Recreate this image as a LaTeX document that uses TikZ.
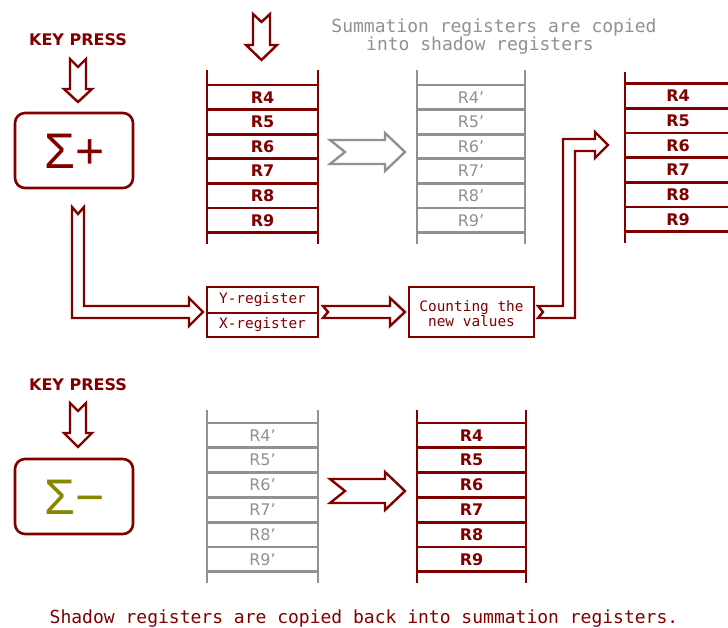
\documentclass[tikz,border=0pt]{standalone}
\usepackage{fontspec}
\setmainfont{DejaVu Sans}
\newfontfamily\monof{DejaVu Sans Mono}
\newfontfamily\sigf{Liberation Sans}
\definecolor{dred}{RGB}{128,0,0}
\definecolor{lgray}{RGB}{145,145,145}
\definecolor{olv}{RGB}{135,135,0}
\newcommand{\regstack}[6]{% L, R, vtop, vbot, first horizontal, style
  \draw[#6] (#1,#3) -- (#1,#4) (#2,#3) -- (#2,#4);
  \foreach \i in {0,...,6} \draw[#6] (#1,#5+\i*24.6) -- (#2,#5+\i*24.6);
}
\newcommand{\regstackb}[6]{%
  \draw[#6] (#1,#3) -- (#1,#4) (#2,#3) -- (#2,#4);
  \foreach \i in {0,...,6} \draw[#6] (#1,#5+\i*24.8) -- (#2,#5+\i*24.8);
}
\begin{document}
\begin{tikzpicture}[x=1pt,y=-1pt,line join=miter]
\tikzset{
  rline/.style={draw=dred, line width=2.7pt},
  gline/.style={draw=lgray, line width=2.7pt},
  hollowr/.style={draw=dred, line width=2.4pt, fill=white},
  hollowg/.style={draw=lgray, line width=2.4pt, fill=white},
  reglab/.style={font=\fontsize{16}{16}\selectfont\bfseries, inner sep=0pt, text=dred},
  greglab/.style={font=\fontsize{16}{16}\selectfont, inner sep=0pt, text=lgray},
  keylab/.style={font=\fontsize{16}{16}\selectfont\bfseries, inner sep=0pt, text=dred},
  monolab/.style={font=\monof\fontsize{14.4}{13.5}\selectfont, inner sep=0pt, text=dred, align=center},
  bigmono/.style={font=\monof\fontsize{18}{18}\selectfont, inner sep=0pt},
  box/.style={draw=dred, line width=2.6pt, inner sep=0pt},
  sigma/.style={font=\sigf\fontsize{50}{50}\selectfont, inner sep=0pt},
}
\useasboundingbox (0,0) rectangle (728,628);
\fill[white] (0,0) rectangle (728,628);

% ---------- top half ----------
\node[keylab] (key1) at (78,40) {KEY PRESS};
\draw[hollowr] (70,59) -- (78,67) -- (86,59) -- (86,89) -- (92,89) -- (78,102) -- (64,89) -- (70,89) -- cycle;
\node[box, rounded corners=10pt, minimum width=118pt, minimum height=75pt] (splusbox) at (74,150.5) {};
\node[sigma, text=dred] (splus) at (75,151.5) {Σ+};

\draw[hollowr] (253,14) -- (261.5,22) -- (270,14) -- (270,45) -- (277,45) -- (261.5,60) -- (246,45) -- (253,45) -- cycle;

\node[bigmono, text=lgray] (t1) at (494,28) {Summation registers are copied};
\node[bigmono, text=lgray] (t2) at (480,46) {into shadow registers};

\regstack{207}{318}{70}{244}{85}{rline}
\foreach \n [count=\i from 0] in {4,...,9}
  \node[reglab] (a\n) at (262.5,85+\i*24.6+12.3) {R\n};

\draw[hollowg] (330,140) -- (385,140) -- (385,133) -- (405,152) -- (385,171) -- (385,164) -- (330,164) -- (345,152) -- cycle;

\regstack{417}{525}{70}{244}{85}{gline}
\foreach \n [count=\i from 0] in {4,...,9}
  \node[greglab] (b\n) at (471,85+\i*24.6+12.3) {R\n’};

\draw[rline] (625,72) -- (625,243);
\foreach \i in {0,...,6} \draw[rline] (625,83.5+\i*24.7) -- (729,83.5+\i*24.7);
\foreach \n [count=\i from 0] in {4,...,9}
  \node[reglab] (c\n) at (678,83.5+\i*24.7+12.35) {R\n};

% left elbow arrow
\draw[hollowr] (72,207) -- (78,214) -- (84,207) -- (84,306) -- (189,306) -- (189,298) -- (203,312) -- (189,326) -- (189,318) -- (72,318) -- cycle;

\node[box, minimum width=111pt, minimum height=26pt, monolab] (yreg) at (262.5,300) {Y-register};
\node[box, minimum width=111pt, minimum height=24pt, monolab] (xreg) at (262.5,325) {X-register};

\draw[hollowr] (323,306) -- (390,306) -- (390,298) -- (405,312) -- (390,326) -- (390,318) -- (323,318) -- (328,312) -- cycle;

\node[box, minimum width=125pt, minimum height=50pt] (count) at (471.5,312) {};
\node[monolab] (counttxt) at (471.5,313.5) {Counting the\\new values};

% right elbow arrow
\draw[hollowr] (538,306) -- (563,306) -- (563,139) -- (595,139) -- (595,132) -- (608,145) -- (595,158) -- (595,151) -- (575,151) -- (575,318) -- (538,318) -- (543,312) -- cycle;

% ---------- bottom half ----------
\node[keylab] (key2) at (78,385) {KEY PRESS};
\draw[hollowr] (70,403) -- (78,411) -- (86,403) -- (86,433) -- (92,433) -- (78,447) -- (64,433) -- (70,433) -- cycle;
\node[box, rounded corners=10pt, minimum width=118pt, minimum height=75pt] (sminbox) at (74,496.5) {};
\node[sigma, text=olv] (smin) at (75,497) {Σ−};

\regstackb{207}{318}{410}{583}{423}{gline}
\foreach \n [count=\i from 0] in {4,...,9}
  \node[greglab] (d\n) at (262.5,423+\i*24.8+12.4) {R\n’};

\draw[hollowr] (330,479) -- (385,479) -- (385,472) -- (405,491) -- (385,510) -- (385,503) -- (330,503) -- (345,491) -- cycle;

\regstackb{417}{526}{410}{583}{423}{rline}
\foreach \n [count=\i from 0] in {4,...,9}
  \node[reglab] (e\n) at (471.5,423+\i*24.8+12.4) {R\n};

\node[bigmono, text=dred] (t3) at (364,619) {Shadow registers are copied back into summation registers.};
\end{tikzpicture}
\end{document}
